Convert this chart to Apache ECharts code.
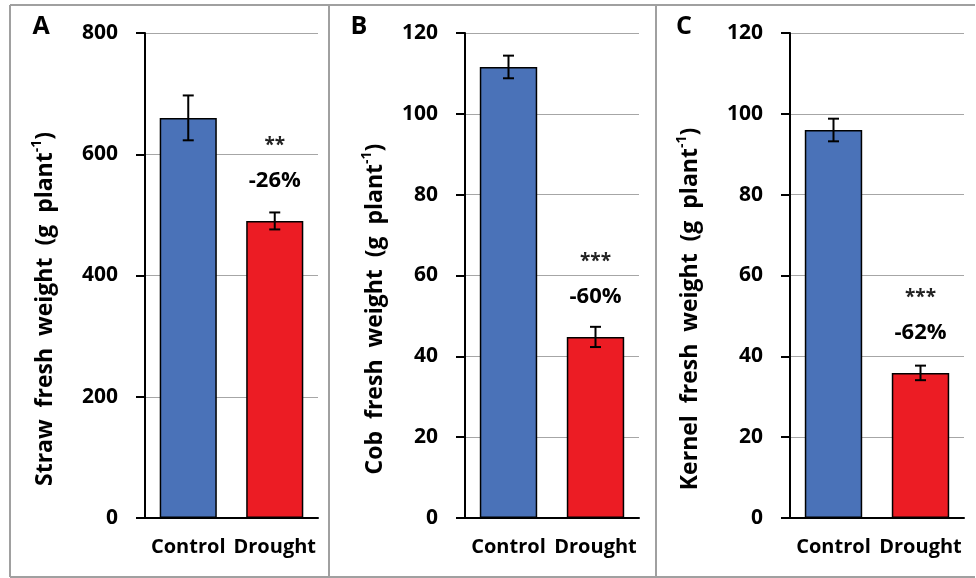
<!DOCTYPE html>
<html>
<head>
<meta charset="utf-8">
<script src="https://cdn.jsdelivr.net/npm/echarts@6/dist/echarts.min.js"></script>
<style>
  html, body { margin: 0; padding: 0; background: #fff; }
  #chart { width: 976px; height: 578px; }
</style>
</head>
<body>
<div id="chart"></div>
<script>
const categories = ['Control', 'Drought']
const strawMean = [660, 490]
const strawErr = [37, 14]
const cobMean = [111.6, 44.8]
const cobErr = [2.8, 2.5]
const kernelMean = [96, 35.9]
const kernelErr = [2.8, 1.8]
const yMax = [800, 120, 120]
const yStep = [200, 20, 20]
const panelLetters = ['A', 'B', 'C']
const yTitles = ['Straw', 'Cob', 'Kernel']
const stars = ['**', '***', '***']
const changes = ['-26%', '-60%', '-62%']

const font = 'Open Sans'
const barColors = ['#4a72b8', '#ec1c24']
const panels = [
  { mean: strawMean, err: strawErr, left: 145, width: 173, letterX: 41, titleX: 45 },
  { mean: cobMean, err: cobErr, left: 465, width: 174, letterX: 359, titleX: 375 },
  { mean: kernelMean, err: kernelErr, left: 790, width: 174, letterX: 684, titleX: 690 }
]

const chart = echarts.init(document.getElementById('chart'))

const grid = []
const xAxis = []
const yAxis = []
const series = []
const graphic = []

panels.forEach((p, k) => {
  grid.push({ left: p.left, top: 33, width: p.width, height: 485 })
  xAxis.push({
    type: 'category',
    gridIndex: k,
    data: categories,
    axisLine: { lineStyle: { color: '#000', width: 2 } },
    axisTick: { show: false },
    axisLabel: { interval: 0, color: '#000', fontFamily: font, fontWeight: 'bold', fontSize: 20, margin: 19 }
  })
  yAxis.push({
    type: 'value',
    gridIndex: k,
    min: 0,
    max: yMax[k],
    interval: yStep[k],
    axisLine: { show: true, lineStyle: { color: '#000', width: 2 } },
    axisTick: { show: true, length: 9, lineStyle: { color: '#000', width: 2 } },
    axisLabel: { color: '#000', fontFamily: font, fontWeight: 'bold', fontSize: 21, margin: 27 },
    splitLine: { lineStyle: { color: '#a6a6a6', width: 1 } }
  })
  series.push({
    type: 'bar',
    xAxisIndex: k,
    yAxisIndex: k,
    barWidth: '66%',
    data: p.mean.map((v, i) => ({
      value: v,
      itemStyle: { color: barColors[i], borderColor: '#000', borderWidth: 1.5 },
      label: i === 1 ? {
        show: true,
        position: 'top',
        distance: 20,
        formatter: '{s|' + stars[k] + '}\n{p|' + changes[k] + '}',
        rich: {
          s: { fontFamily: font, fontWeight: 'bold', fontSize: 19, color: '#222', lineHeight: 29 },
          p: { fontFamily: font, fontWeight: 'bold', fontSize: 22, color: '#000', lineHeight: 41 }
        }
      } : { show: false }
    }))
  })
  series.push({
    type: 'custom',
    xAxisIndex: k,
    yAxisIndex: k,
    z: 10,
    data: p.mean.map((v, i) => [i, v - p.err[i], v + p.err[i]]),
    encode: { x: 0, y: [1, 2] },
    renderItem: (params, api) => {
      const lo = api.coord([api.value(0), api.value(1)])
      const hi = api.coord([api.value(0), api.value(2)])
      const w = 5.5
      const st = { stroke: '#000', lineWidth: 2 }
      return {
        type: 'group',
        children: [
          { type: 'line', shape: { x1: hi[0], y1: hi[1], x2: lo[0], y2: lo[1] }, style: st },
          { type: 'line', shape: { x1: hi[0] - w, y1: hi[1], x2: hi[0] + w, y2: hi[1] }, style: st },
          { type: 'line', shape: { x1: lo[0] - w, y1: lo[1], x2: lo[0] + w, y2: lo[1] }, style: st }
        ]
      }
    }
  })
  graphic.push({
    type: 'text',
    x: p.letterX,
    y: 27,
    style: { text: panelLetters[k], fontFamily: font, fontWeight: 'bold', fontSize: 25, fill: '#000', align: 'center', verticalAlign: 'middle' }
  })
  graphic.push({
    type: 'text',
    x: p.titleX,
    y: 309,
    rotation: Math.PI / 2,
    style: {
      text: '{t|' + yTitles[k] + '  fresh  weight  (g  plant}{sup|-1}{t|)}',
      align: 'center',
      verticalAlign: 'middle',
      rich: {
        t: { fontFamily: font, fontWeight: 'bold', fontSize: 23, fill: '#000', lineHeight: 30 },
        sup: { fontFamily: font, fontWeight: 'bold', fontSize: 14, fill: '#000', lineHeight: 30, verticalAlign: 'top', padding: [0, 0, 8, 0] }
      }
    }
  })
})

// panel frame
const frame = { stroke: '#a0a0a0', lineWidth: 2 }
;[[10, 5, 975, 5], [10, 5, 10, 577], [329, 5, 329, 577], [656, 5, 656, 577], [10, 577, 975, 577]].forEach(s => {
  graphic.push({ type: 'line', shape: { x1: s[0], y1: s[1], x2: s[2], y2: s[3] }, style: frame, silent: true })
})

chart.setOption({
  animation: false,
  grid,
  xAxis,
  yAxis,
  series,
  graphic
})
</script>
</body>
</html>
